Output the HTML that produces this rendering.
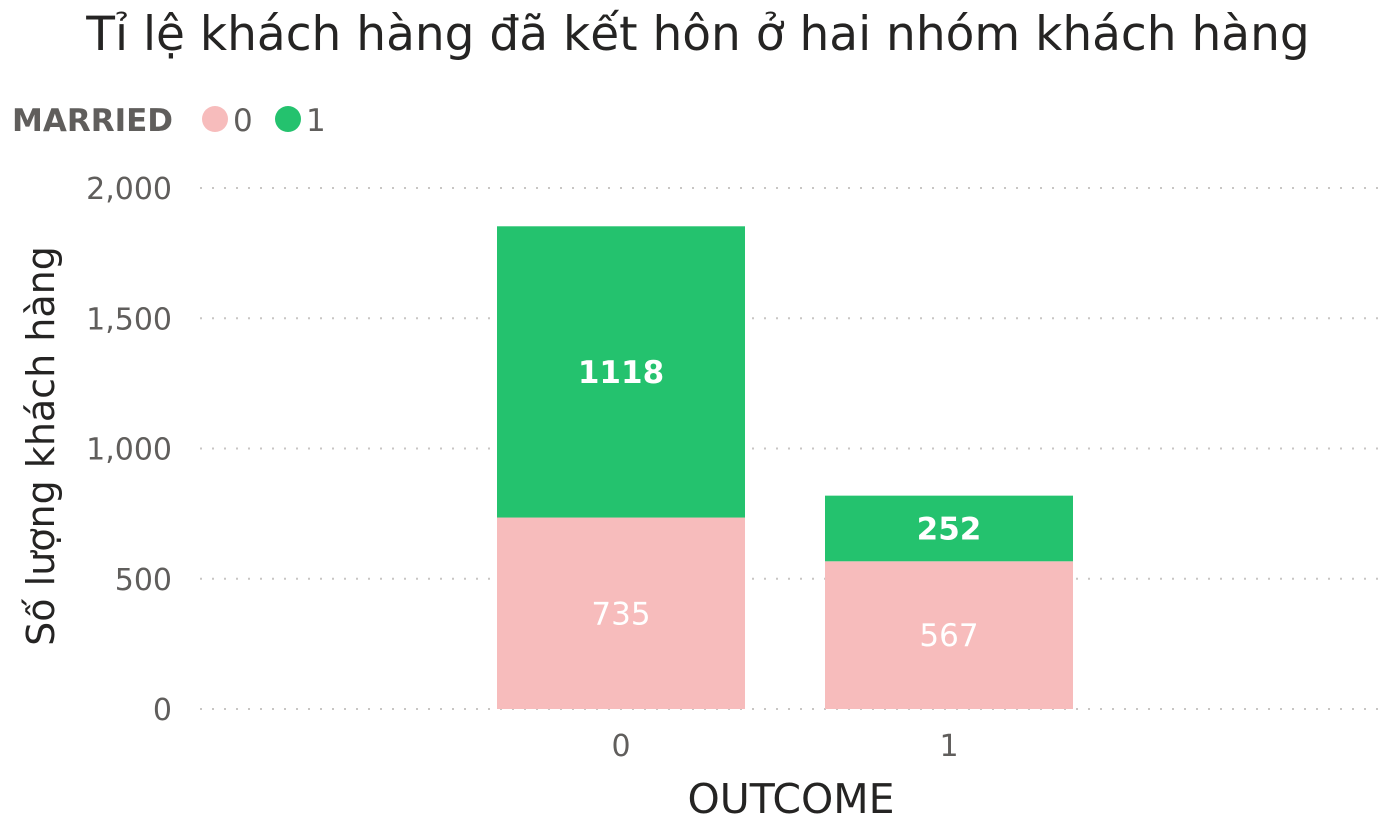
<!DOCTYPE html>
<html><head><meta charset="utf-8">
<style>
body{margin:0;background:#fff;width:1392px;height:834px;overflow:hidden;font-family:"DejaVu Sans","Liberation Sans",sans-serif;}
</style></head>
<body>
<svg width="1392" height="834" xmlns="http://www.w3.org/2000/svg">
<text x="698" y="50" text-anchor="middle" font-size="47" fill="#252423">Tỉ lệ khách hàng đã kết hôn ở hai nhóm khách hàng</text>
<g>
<text x="12" y="131" font-size="31" font-weight="bold" fill="#605E5C">MARRIED</text>
<circle cx="215" cy="119" r="13" fill="#F7BCBC"/>
<text x="233" y="131" font-size="31" fill="#605E5C">0</text>
<circle cx="288" cy="119" r="13" fill="#24C26E"/>
<text x="306" y="131" font-size="31" fill="#605E5C">1</text>
</g>
<g id="grid"></g><g id="yticks"></g><g id="bars"></g><g id="xticks"></g>
<text transform="translate(54,446) rotate(-90)" text-anchor="middle" font-size="38" fill="#252423">Số lượng khách hàng</text>
<text x="791" y="813" text-anchor="middle" font-size="41" fill="#252423">OUTCOME</text>
</svg>
<script>
const categories = ["0","1"];
const married0 = [735, 567];
const married1 = [1118, 252];
const yTicks = [0, 500, 1000, 1500, 2000];
const yTickLabels = ["0","500","1,000","1,500","2,000"];

const NS="http://www.w3.org/2000/svg";
const y0=709, yTop=188, yMax=2000;
function y(v){return y0-(v/yMax)*(y0-yTop);}
const xFirst=621, step=328, barW=248;
function xc(i){return xFirst+i*step;}
function mk(tag,attrs,parent){const e=document.createElementNS(NS,tag);for(const k in attrs)e.setAttribute(k,attrs[k]);parent.appendChild(e);return e;}
const grid=document.getElementById('grid'), yt=document.getElementById('yticks'), bars=document.getElementById('bars'), xt=document.getElementById('xticks');
yTicks.forEach((t,i)=>{
  const l=mk('line',{x1:200,x2:1380,y1:y(t),y2:y(t),stroke:'#C8C6C4','stroke-width':2,'stroke-dasharray':'2 10'},grid);
  
  
  const tx=mk('text',{x:172,y:y(t)+11,'text-anchor':'end','font-size':30,fill:'#605E5C'},yt);
  tx.textContent=yTickLabels[i];
  
  
});
categories.forEach((c,i)=>{
  const a=married0[i], b=married1[i];
  const r0=mk('rect',{x:xc(i)-barW/2,y:y(a),width:barW,height:y(0)-y(a),fill:'#F7BCBC'},bars);
  
  
  const r1=mk('rect',{x:xc(i)-barW/2,y:y(a+b),width:barW,height:y(a)-y(a+b),fill:'#24C26E'},bars);
  
  
  const t0=mk('text',{x:xc(i),y:(y(0)+y(a))/2+11,'text-anchor':'middle','font-size':31,fill:'#fff'},bars);
  t0.textContent=a;
  
  
  const t1=mk('text',{x:xc(i),y:(y(a)+y(a+b))/2+11,'text-anchor':'middle','font-size':31,fill:'#fff','font-weight':'bold'},bars);
  t1.textContent=b;
  
  
  const xl=mk('text',{x:xc(i),y:756,'text-anchor':'middle','font-size':30,fill:'#605E5C'},xt);
  xl.textContent=c;
  
  
});
</script>
</body></html>
